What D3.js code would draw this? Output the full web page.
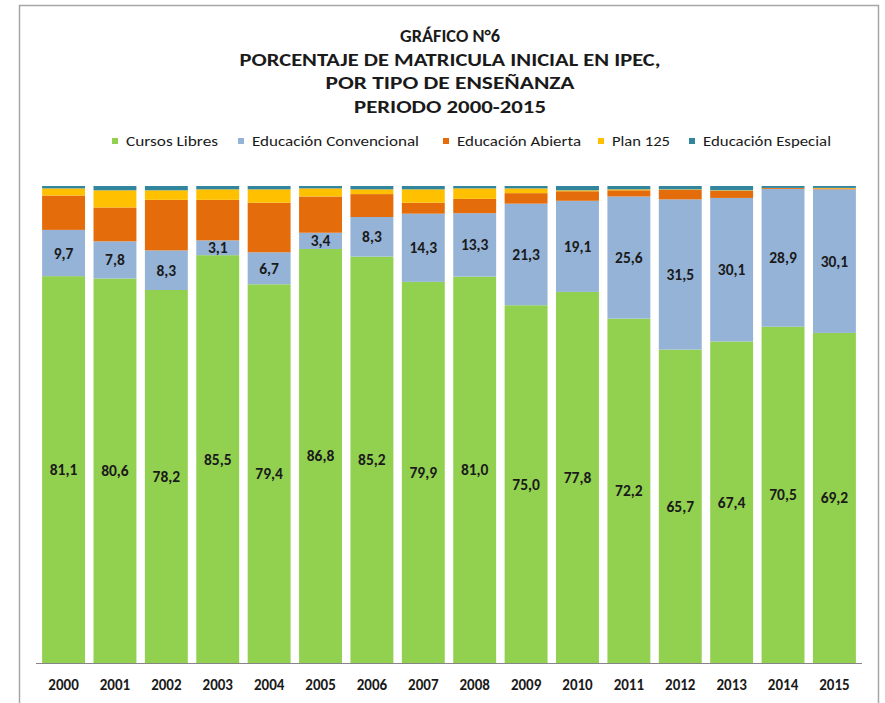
<!DOCTYPE html>
<html>
<head>
<meta charset="utf-8">
<script src="https://cdn.jsdelivr.net/npm/d3@7"></script>
<style>
  body { margin: 0; background: #fff; }
  text { font-family: Carlito, Calibri, "Open Sans", sans-serif; }
</style>
</head>
<body>
<svg width="885" height="703"></svg>
<script>
let years = ['2000','2001','2002','2003','2004','2005','2006','2007','2008','2009','2010','2011','2012','2013','2014','2015']
let cursosLibres = [81.1, 80.6, 78.2, 85.5, 79.4, 86.8, 85.2, 79.9, 81.0, 75.0, 77.8, 72.2, 65.7, 67.4, 70.5, 69.2]
let convencional = [9.7, 7.8, 8.3, 3.1, 6.7, 3.4, 8.3, 14.3, 13.3, 21.3, 19.1, 25.6, 31.5, 30.1, 28.9, 30.1]
let abierta = [7.2, 7.1, 10.6, 8.5, 10.4, 7.6, 4.8, 2.3, 3.0, 2.2, 2.0, 1.3, 2.0, 1.5, 0.2, 0.2]
let plan125 = [1.5, 3.6, 2.0, 2.2, 2.8, 1.7, 1.0, 2.8, 2.2, 1.0, 0.2, 0.2, 0.1, 0.1, 0.0, 0.1]
let especial = [0.5, 0.9, 0.9, 0.7, 0.7, 0.5, 0.7, 0.7, 0.5, 0.5, 0.9, 0.7, 0.7, 0.9, 0.4, 0.4]

let seriesNames = ['Cursos Libres', 'Educación Convencional', 'Educación Abierta', 'Plan 125', 'Educación Especial']
let seriesValues = [cursosLibres, convencional, abierta, plan125, especial]
let colors = ['#92d050', '#95b3d7', '#e46c0a', '#ffc000', '#31859c']
let titleLines = ['GRÁFICO N°6', 'PORCENTAJE DE MATRICULA INICIAL EN IPEC,', 'POR TIPO DE ENSEÑANZA', 'PERIODO 2000-2015']

let width = 885
let height = 703
let margin = { top: 186, bottom: 40, left: 36, right: 23 }

let svg = d3.select('svg')

// chart frame
svg.append('rect')
  .attr('x', 19.5).attr('y', 5.5)
  .attr('width', 859).attr('height', 710)
  .attr('fill', 'none')
  .attr('stroke', '#a6a6a6')
  .attr('stroke-width', 1.5)

// title
let titleY = [42, 66, 89, 113]
let titleW = [100, 421, 249, 192]
svg.selectAll('.title')
  .data(titleLines)
  .join('text')
  .attr('x', 450)
  .attr('y', (d, i) => titleY[i])
  .attr('text-anchor', 'middle')
  .attr('font-size', 19)
  .attr('font-weight', 'bold')
  .attr('fill', '#1a1a1a')
  .attr('textLength', (d, i) => titleW[i])
  .attr('lengthAdjust', 'spacingAndGlyphs')
  .text(d => d)

// legend
let legendSq = [112, 238, 443, 598, 689]
let legendW = [92, 167, 124, 58, 128]
let legend = svg.selectAll('.legend')
  .data(seriesNames)
  .join('g')
legend.append('rect')
  .attr('x', (d, i) => legendSq[i])
  .attr('y', 138)
  .attr('width', 6).attr('height', 6)
  .attr('fill', (d, i) => colors[i])
legend.append('text')
  .attr('x', (d, i) => legendSq[i] + 14)
  .attr('y', 146)
  .attr('font-size', 14)
  .attr('fill', '#1a1a1a')
  .attr('textLength', (d, i) => legendW[i])
  .attr('lengthAdjust', 'spacingAndGlyphs')
  .text(d => d)

// stacked data
let table = years.map((y, i) => {
  let row = { year: y }
  seriesNames.forEach((s, k) => { row[s] = seriesValues[k][i] })
  return row
})
let stacked = d3.stack().keys(seriesNames)(table)

let xScale = d3.scaleBand()
  .domain(years)
  .range([margin.left + 2, width - margin.right - 2])
  .paddingInner(0.165)
  .paddingOuter(0.08)

let yScale = d3.scaleLinear()
  .domain([0, 100])
  .range([height - margin.bottom, margin.top])

let layers = svg.selectAll('.layer')
  .data(stacked)
  .join('g')
  .attr('fill', (d, i) => colors[i])

layers.selectAll('rect')
  .data(d => d)
  .join('rect')
  .attr('x', d => xScale(d.data.year))
  .attr('width', xScale.bandwidth())
  .attr('y', d => yScale(d[1]))
  .attr('height', d => yScale(d[0]) - yScale(d[1]))

// value labels on first two series
stacked.slice(0, 2).forEach(layer => {
  svg.append('g')
    .selectAll('text')
    .data(layer)
    .join('text')
    .attr('x', d => xScale(d.data.year) + xScale.bandwidth() / 2)
    .attr('y', d => (yScale(d[0]) + yScale(d[1])) / 2 + 5.5)
    .attr('text-anchor', 'middle')
    .attr('font-size', 15.5)
    .attr('font-weight', 'bold')
    .attr('fill', '#1a1a1a')
    .text(d => d3.format('.1f')(d[1] - d[0]).replace('.', ','))
})

// x axis
let xAxis = d3.axisBottom(xScale).tickSize(0).tickPadding(16)
let gx = svg.append('g')
  .attr('transform', 'translate(' + [0, height - margin.bottom] + ')')
  .call(xAxis)
gx.select('.domain').attr('stroke', '#868686').attr('d', 'M' + margin.left + ',0.5H' + (width - margin.right))
gx.selectAll('text')
  .attr('font-size', 15)
  .attr('font-weight', 'bold')
  .attr('fill', '#1a1a1a')
  .style('font-family', 'Carlito, Calibri, "Open Sans", sans-serif')
</script>
</body>
</html>
